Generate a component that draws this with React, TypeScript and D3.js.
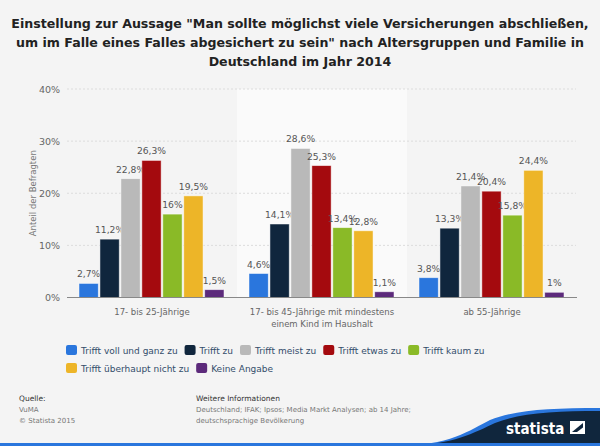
import React from "react";
import * as d3 from "d3";

const categories = ["17- bis 25-Jährige", "17- bis 45-Jährige mit mindestens|einem Kind im Haushalt", "ab 55-Jährige"];
const seriesNames = ["Trifft voll und ganz zu", "Trifft zu", "Trifft meist zu", "Trifft etwas zu", "Trifft kaum zu", "Trifft überhaupt nicht zu", "Keine Angabe"];
const seriesColors = ["#2a76dd", "#10263d", "#b9b9b9", "#a40a0e", "#8aba27", "#edb528", "#5c2a7b"];
const values = [
  [2.7, 4.6, 3.8],
  [11.2, 14.1, 13.3],
  [22.8, 28.6, 21.4],
  [26.3, 25.3, 20.4],
  [16, 13.4, 15.8],
  [19.5, 12.8, 24.4],
  [1.5, 1.1, 1],
];
const yTicks = [0, 10, 20, 30, 40];

const fmt = (v: number) => String(v).replace(".", ",") + "%";

export default function App() {
  const W = 600, H = 446;
  const left = 67, right = 577, top = 89, bottom = 297.5;
  const x0 = d3.scaleBand().domain(categories).range([left, right]).paddingInner(0).paddingOuter(0);
  const x1 = d3.scaleBand().domain(seriesNames).range([12, x0.bandwidth() - 13]).paddingInner(0.08);
  const y = d3.scaleLinear().domain([0, 40]).range([bottom, top]);
  const font = "'DejaVu Sans', sans-serif";
  const legendFont = 9;

  const legendRows = [
    [0, 1, 2, 3, 4],
    [5, 6],
  ];
  const ctx = typeof document !== "undefined" ? document.createElement("canvas").getContext("2d") : null;
  const measure = (t: string) => {
    if (!ctx) return t.length * 5.5;
    ctx.font = `${legendFont}px ${font}`;
    return ctx.measureText(t).width;
  };

  return (
    <svg width={W} height={H} style={{ position: "absolute", left: 0, top: 0, fontFamily: font }}>
      <rect x={0} y={0} width={W} height={H} fill="#f4f4f4" />
      <text textAnchor="middle" fontWeight="bold" fontSize={12.6} fill="#222">
        <tspan x={300} y={28}>Einstellung zur Aussage "Man sollte möglichst viele Versicherungen abschließen,</tspan>
        <tspan x={300} y={47}>um im Falle eines Falles abgesichert zu sein" nach Altersgruppen und Familie in</tspan>
        <tspan x={300} y={66}>Deutschland im Jahr 2014</tspan>
      </text>
      <rect x={x0(categories[1])} y={top} width={x0.bandwidth()} height={bottom - top} fill="#fafafa" />
      {yTicks.map((t) => (
        <g key={t}>
          {t > 0 && <line x1={left} x2={right - 1} y1={y(t)} y2={y(t)} stroke="#dcdcdc" strokeDasharray="2,2" strokeWidth={1} />}
          <text x={60} y={y(t) + 3.5} textAnchor="end" fontSize={9.5} fill="#666">{t}%</text>
        </g>
      ))}
      <text transform={`translate(36,${(top + bottom) / 2}) rotate(-90)`} textAnchor="middle" fontSize={8.5} fill="#777">Anteil der Befragten</text>
      {categories.map((c, ci) => (
        <g key={c} transform={`translate(${x0(c)},0)`}>
          {seriesNames.map((s, si) => {
            const v = values[si][ci];
            const bx = x1(s)!;
            return (
              <g key={s}>
                <rect x={bx} y={y(v)} width={x1.bandwidth()} height={bottom - y(v)} fill={seriesColors[si]} stroke="#fff" strokeOpacity={0.6} strokeWidth={0.8} />
                <text x={bx + x1.bandwidth() / 2} y={y(v) - 6} textAnchor="middle" fontSize={9.2} fill="#555">{fmt(v)}</text>
              </g>
            );
          })}
          {c.split("|").map((line, li) => (
            <text key={li} x={x0.bandwidth() / 2} y={315 + li * 12} textAnchor="middle" fontSize={8.5} fill="#666">{line}</text>
          ))}
        </g>
      ))}
      <line x1={left} x2={right} y1={bottom} y2={bottom} stroke="#888" strokeWidth={1.2} />
      {legendRows.map((row, ri) => {
        let cx = 66;
        return (
          <g key={ri}>
            {row.map((si) => {
              const gx = cx;
              const w = measure(seriesNames[si]);
              cx += 15 + w + 7;
              return (
                <g key={si}>
                  <rect x={gx} y={345 + ri * 18} width={11} height={10} rx={2} fill={seriesColors[si]} />
                  <text x={gx + 15} y={354 + ri * 18} fontSize={legendFont} fill="#334d6b">{seriesNames[si]}</text>
                </g>
              );
            })}
          </g>
        );
      })}
      <g fontSize={7} fill="#777">
        <text x={19} y={401} fill="#333" fontSize={7.5}>Quelle:</text>
        <text x={19} y={412}>VuMA</text>
        <text x={19} y={423}>© Statista 2015</text>
        <text x={196} y={401} fill="#333" fontSize={7.5}>Weitere Informationen</text>
        <text x={196} y={412}>Deutschland; IFAK; Ipsos; Media Markt Analysen; ab 14 Jahre;</text>
        <text x={196} y={423}>deutschsprachige Bevölkerung</text>
      </g>
      <path d="M395,446 C450,446 470,430 490,420 C515,410 550,408 600,408 L600,446 Z" fill="#2a76dd" />
      <path d="M402,446 C455,445 475,432 495,423 C520,413 555,411 600,411 L600,446 Z" fill="#10263d" />
      <rect x={0} y={443} width={600} height={3} fill="#2a76dd" />
      <text x={506} y={434} fontSize={15} fontWeight="bold" fill="#fff" fontFamily="'DejaVu Sans Condensed', 'DejaVu Sans', sans-serif">statista</text>
      <g transform="translate(570,421)">
        <rect x={0} y={0} width={15} height={13} fill="#fff" />
        <path d="M2,11 L13,2 L13,6.5 L7,11 Z" fill="#10263d" />
      </g>
    </svg>
  );
}
